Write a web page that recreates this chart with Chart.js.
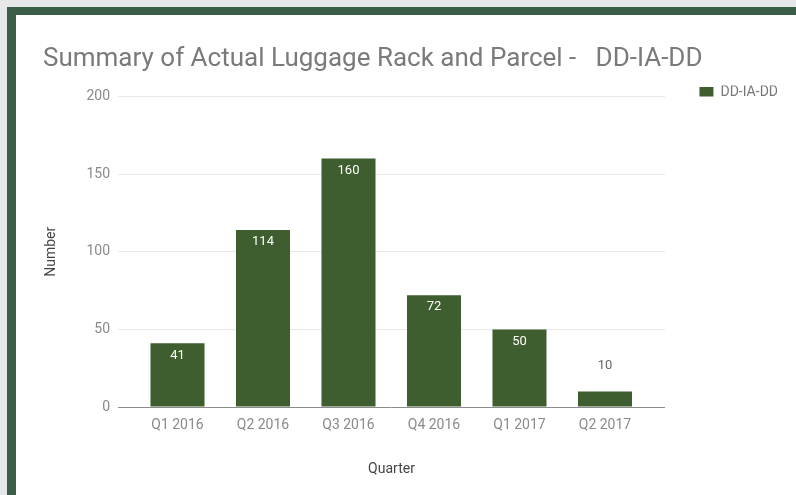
<!DOCTYPE html>
<html>
<head>
<meta charset="utf-8">
<script src="https://cdn.jsdelivr.net/npm/chart.js@4.4.1/dist/chart.umd.min.js"></script>
<style>
  html, body { margin: 0; padding: 0; width: 796px; height: 495px; overflow: hidden; background: #e6e7e9; }
  #frame { position: absolute; left: 7px; top: 7px; width: 800px; height: 500px; background: #3b5d47; }
  #panel { position: absolute; left: 16px; top: 15px; width: 790px; height: 490px; background: #ffffff; }
  #c { position: absolute; left: 16px; top: 15px; }
</style>
</head>
<body>
<div id="frame"></div>
<div id="panel"></div>
<canvas id="c" width="780" height="480"></canvas>
<script>
// ---- data ----
const chartTitle = 'Summary of Actual Luggage Rack and Parcel -   DD-IA-DD';
const seriesName = 'DD-IA-DD';
const quarters = ['Q1 2016', 'Q2 2016', 'Q3 2016', 'Q4 2016', 'Q1 2017', 'Q2 2017'];
const counts = [41, 114, 160, 72, 50, 10];
const yTicks = [0, 50, 100, 150, 200];
const xAxisTitle = 'Quarter';
const yAxisTitle = 'Number';

const barColor = '#3e5e2f';
const FONT = 'Roboto';

const valueLabels = {
  id: 'valueLabels',
  afterDatasetsDraw(chart) {
    const ctx = chart.ctx;
    const meta = chart.getDatasetMeta(0);
    ctx.save();
    ctx.font = 'normal 13px ' + FONT;
    ctx.textAlign = 'center';
    ctx.textBaseline = 'middle';
    meta.data.forEach((bar, i) => {
      const v = counts[i];
      const h = bar.base - bar.y;
      if (h > 24) {
        ctx.fillStyle = '#ffffff';
        ctx.fillText(String(v), bar.x, bar.y + 12);
      } else {
        ctx.fillStyle = '#666666';
        ctx.fillText(String(v), bar.x, bar.y - 26);
      }
    });
    ctx.restore();
  }
};

new Chart(document.getElementById('c'), {
  type: 'bar',
  data: {
    datasets: [{
      label: seriesName,
      data: counts.map((v, i) => ({ x: i, y: v })),
      backgroundColor: barColor,
      borderWidth: 0,
      barPercentage: 0.632,
      categoryPercentage: 1.0
    }]
  },
  options: {
    responsive: false,
    animation: false,
    devicePixelRatio: 1,
    layout: { padding: { left: 27, right: 18, top: 0, bottom: 0 } },
    plugins: {
      title: {
        display: true,
        text: chartTitle,
        align: 'start',
        color: '#7a7a7a',
        font: { family: FONT, size: 26, weight: 'normal' },
        padding: { top: 28.6, bottom: 10.7 }
      },
      legend: {
        display: true,
        position: 'top',
        align: 'end',
        fullSize: true,
        maxHeight: 11,
        labels: {
          boxWidth: 14,
          boxHeight: 11,
          padding: 0,
          color: '#777777',
          font: { family: FONT, size: 14 }
        }
      },
      tooltip: { enabled: false }
    },
    scales: {
      x: {
        type: 'linear',
        position: 'bottom',
        offset: false,
        min: -0.696,
        max: 5.702,
        afterBuildTicks: (s) => { s.ticks = quarters.map((_, i) => ({ value: i })); },
        grid: { display: false, drawTicks: false, offset: false },
        border: { display: false },
        ticks: {
          autoSkip: false,
          maxRotation: 0,
          padding: 10,
          color: '#8a8a8a',
          font: { family: FONT, size: 14 },
          callback: (v) => quarters[v]
        },
        title: {
          display: true,
          text: xAxisTitle,
          color: '#444444',
          font: { family: FONT, size: 14 },
          padding: { top: 16.8, bottom: 17.6 }
        }
      },
      y: {
        position: 'left',
        min: 0,
        max: 200,
        afterBuildTicks: (s) => { s.ticks = yTicks.map(v => ({ value: v })); },
        afterFit: (s) => { s.width = 75; },
        grid: {
          drawTicks: false,
          color: (c) => (c.tick && c.tick.value === 0) ? '#8c8c8c' : '#e8e8e8',
          lineWidth: 1
        },
        border: { display: false },
        ticks: {
          padding: 8,
          color: '#8a8a8a',
          font: { family: FONT, size: 14 }
        },
        title: {
          display: true,
          text: yAxisTitle,
          color: '#444444',
          font: { family: FONT, size: 14 },
          padding: { top: 0, bottom: 0 }
        }
      },
      ySpacer: {
        type: 'linear',
        position: 'right',
        display: true,
        afterFit: (s) => { s.width = 113; },
        grid: { display: false, drawTicks: false },
        border: { display: false },
        ticks: { display: false }
      }
    }
  },
  plugins: [valueLabels]
});
</script>
</body>
</html>
